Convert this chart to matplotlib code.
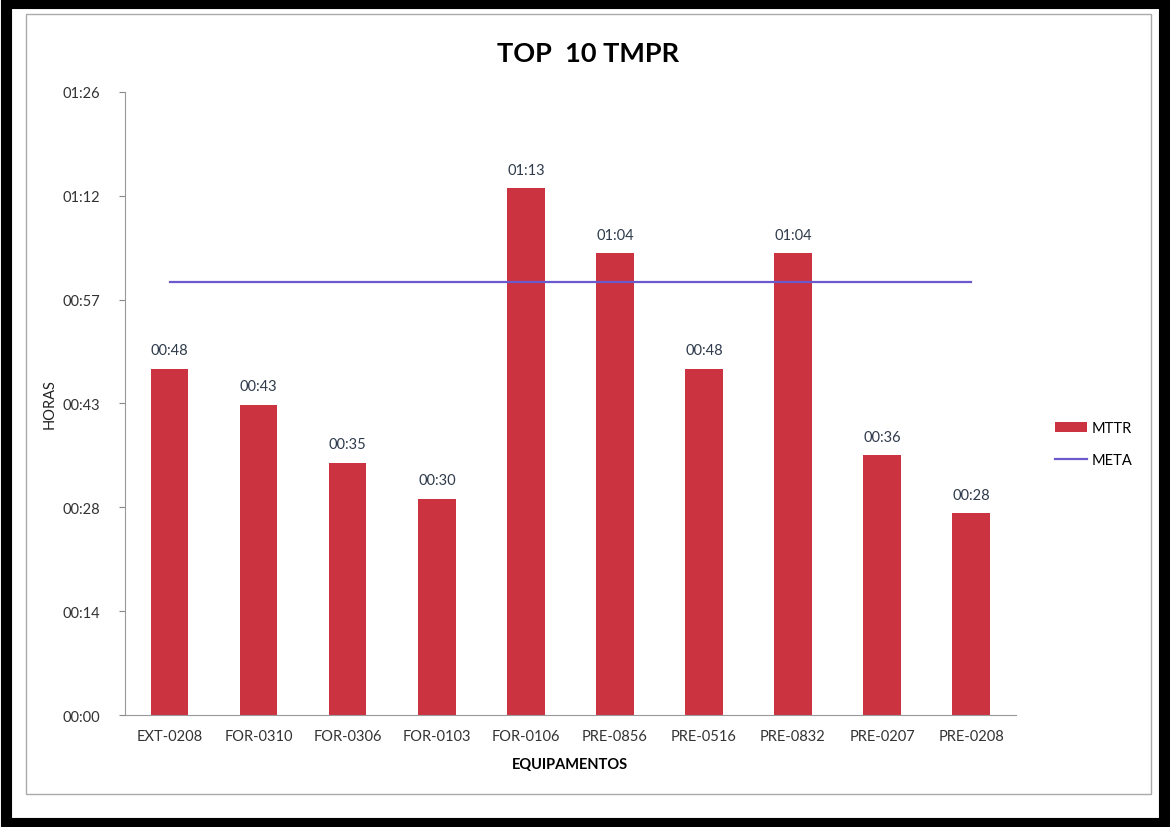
import numpy as np
import matplotlib
matplotlib.use('Agg')
import matplotlib.pyplot as plt
from matplotlib.patches import Rectangle

plt.rcParams['font.family'] = ['Lato', 'DejaVu Sans']

equipamentos = ['EXT-0208', 'FOR-0310', 'FOR-0306', 'FOR-0103', 'FOR-0106',
                'PRE-0856', 'PRE-0516', 'PRE-0832', 'PRE-0207', 'PRE-0208']
mttr_min = [48, 43, 35, 30, 73, 64, 48, 64, 36, 28]   # minutos
meta_min = [60] * 10
yticks_min = [0, 14.4, 28.8, 43.2, 57.6, 72, 86.4]


def hhmm(m):
    m = int(np.floor(m + 1e-6))
    return '%02d:%02d' % (m // 60, m % 60)


fig = plt.figure(figsize=(11.7, 8.28), dpi=100)
ax = fig.add_axes([0.107, 0.135, 0.761, 0.753])

x = np.arange(len(equipamentos))
bars = ax.bar(x, mttr_min, width=0.42, color='#CC3340', label='MTTR', zorder=2)
line, = ax.plot(x, meta_min, color='#6A5ACD', lw=1.6, label='META', zorder=3)

for xi, v in zip(x, mttr_min):
    ax.text(xi, v + 1.6, hhmm(v), ha='center', va='bottom', fontsize=10.5, color='#2F3B4C')

ax.set_xlim(-0.5, len(equipamentos) - 0.5)
ax.set_ylim(0, 86.4)
ax.set_yticks(yticks_min)
ax.set_yticklabels([hhmm(t) for t in yticks_min], fontsize=10.5, color='#333333')
ax.set_xticks(x)
ax.set_xticklabels(equipamentos, fontsize=10.5, color='#333333')
ax.tick_params(axis='x', length=0, pad=10)
ax.tick_params(axis='y', length=4, color='#888888', pad=14)

for s in ['top', 'right']:
    ax.spines[s].set_visible(False)
for s in ['left', 'bottom']:
    ax.spines[s].set_color('#999999')

fig.text(0.503, 0.935, 'TOP  10 TMPR', fontsize=19.5, fontweight='bold', ha='center', va='center')
ax.set_ylabel('HORAS', fontsize=10.5, color='#222222')
ax.yaxis.set_label_coords(-0.077, 0.5)
ax.set_xlabel('EQUIPAMENTOS', fontsize=10.5, fontweight='bold', labelpad=10)

ax.legend([bars, line], ['MTTR', 'META'], loc='center left', bbox_to_anchor=(1.03, 0.435),
          frameon=False, fontsize=10.5, handlelength=2.2, handleheight=0.6, labelspacing=1.2,
          handletextpad=0.3)

# moldura
fig.patches.append(Rectangle((0.005, 0.005), 0.99, 0.99, transform=fig.transFigure,
                             fill=False, edgecolor='black', lw=8))
fig.patches.append(Rectangle((0.022, 0.04), 0.962, 0.942, transform=fig.transFigure,
                             fill=False, edgecolor='#AAAAAA', lw=1))

plt.savefig('out.png', dpi=100)
plt.close()
